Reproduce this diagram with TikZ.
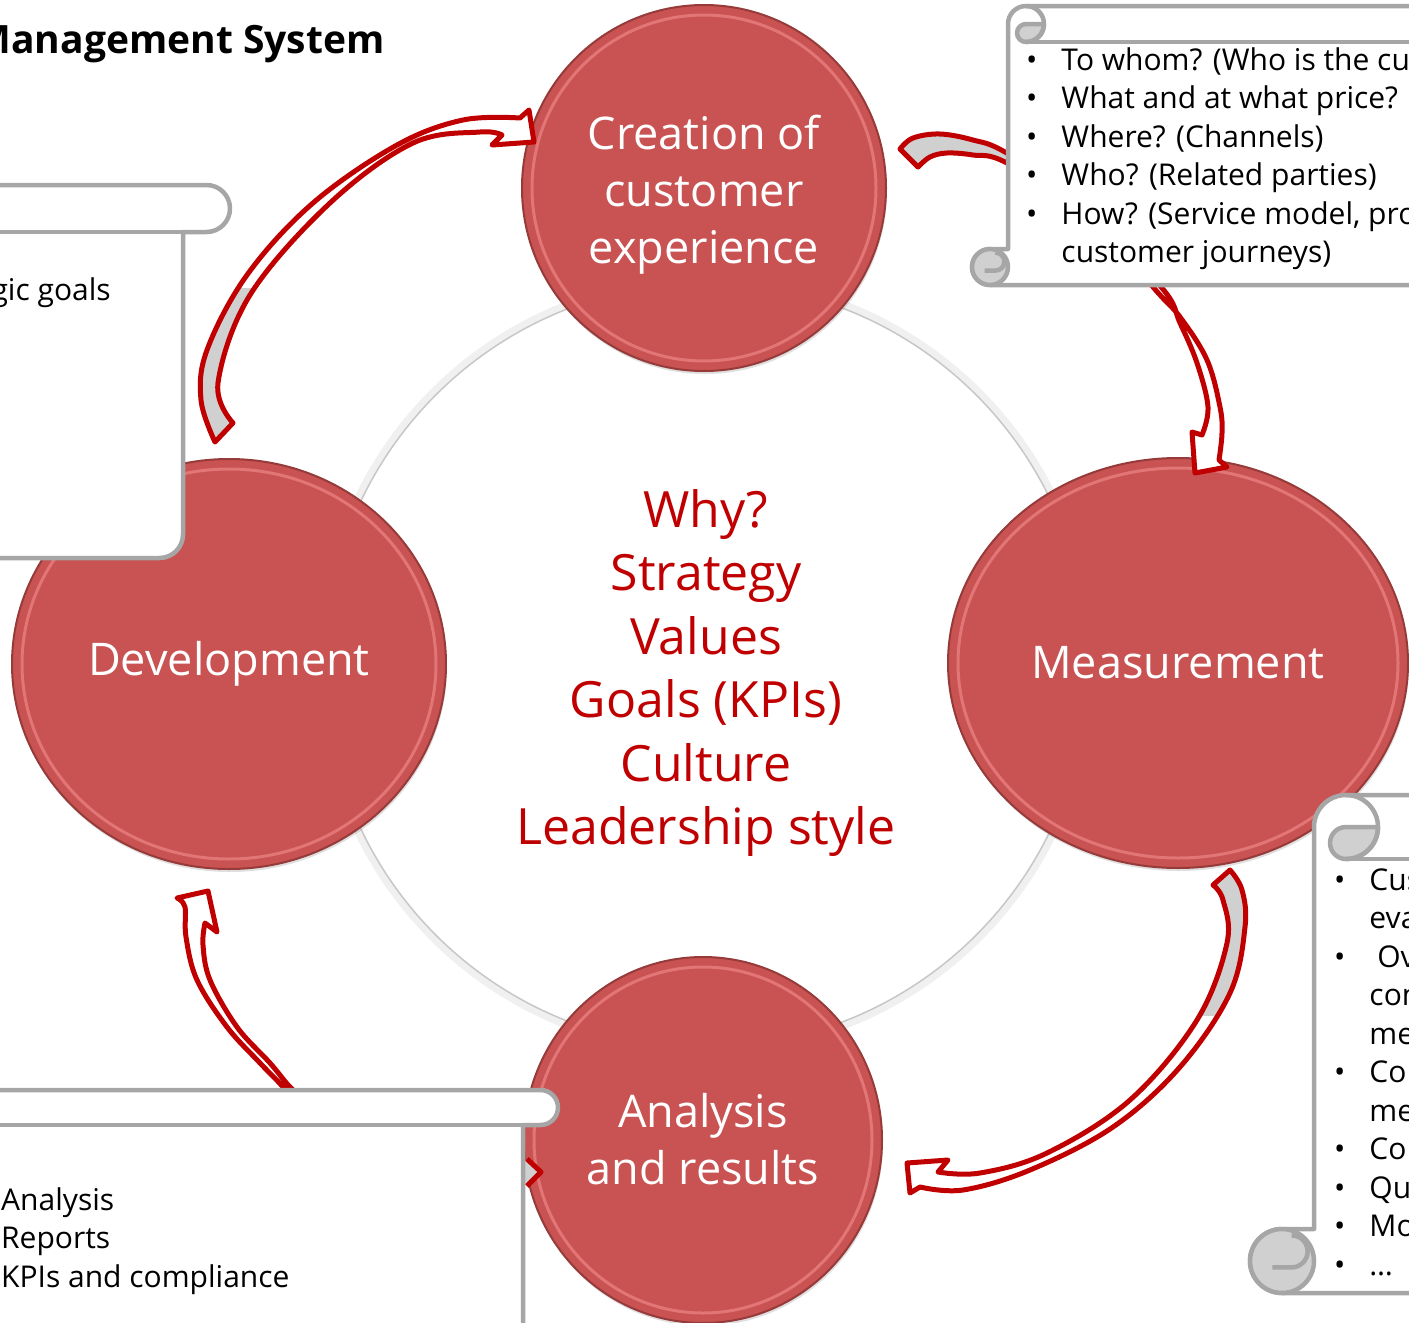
\documentclass[tikz,border=0pt]{standalone}
\usepackage{fontspec}
\setmainfont{Open Sans}
\usetikzlibrary{shapes.geometric,shadows}

\definecolor{stagefill}{RGB}{201,82,82}
\definecolor{stagerim}{RGB}{150,58,58}
\definecolor{stagelight}{RGB}{226,118,118}
\definecolor{keyred}{RGB}{192,0,0}
\definecolor{rollgray}{RGB}{208,208,208}
\definecolor{scrollgray}{RGB}{166,166,166}

\tikzset{
  stage/.style={ellipse, draw=stagerim, line width=2pt, fill=stagefill,
    inner sep=0pt, text=white, align=center, font=\fontsize{45}{57}\selectfont,
    drop shadow={opacity=.25, shadow xshift=1pt, shadow yshift=-3pt}},
  bevel/.style={draw=stagelight, line width=3pt},
  arrowline/.style={draw=keyred, line width=5pt, line join=round},
  scroll/.style={draw=scrollgray, line width=4.5pt, line join=round},
  note/.style={inner sep=0pt, font=\fontsize{30}{38.5}\selectfont},
}

% curved block arrow: #1 outline, #2 part where the back side shows
\newcommand\ribbon[2]{%
  \fill[white] #1;
  \begin{scope}\clip #2; \fill[rollgray] #1; \end{scope}
  \draw[arrowline] #1;}

% vertical scroll: left, top, right, bottom, roll size
\newcommand\vscroll[5]{%
  \pgfmathsetmacro\rl{#5}\pgfmathsetmacro\rh{#5/2}\pgfmathsetmacro\rq{#5/4}
  \filldraw[scroll, fill=white] (#1+\rl,#4-\rl) -- (#1+\rl,#2+\rh)
    arc[start angle=180, end angle=270, radius=\rh] -- (#3-\rh,#2)
    arc[start angle=270, end angle=450, radius=\rh] -- (#3-\rl,#2+\rl)
    -- (#3-\rl,#4-\rh) arc[start angle=0, end angle=90, radius=\rh]
    -- (#1+\rh,#4) arc[start angle=90, end angle=270, radius=\rh] -- cycle;
  \draw[scroll] (#1+1.5*\rl,#2+\rl) -- (#3-\rh,#2+\rl);
  % top curl
  \filldraw[scroll, fill=rollgray] (#1+2*\rl,#2+\rh)
    arc[start angle=0, end angle=90, radius=\rh]
    arc[start angle=90, end angle=270, radius=\rq] -- cycle;
  \draw[scroll] (#1+1.5*\rl,#2) arc[start angle=270, end angle=450, radius=\rh];
  % bottom roll
  \filldraw[scroll, fill=rollgray] (#1+\rh,#4-\rh) circle[radius=\rh];
  \draw[scroll] (#1+\rh-0.6*\rq,#4-\rh+0.4*\rq) -- (#1+\rh+0.6*\rq,#4-\rh+0.4*\rq)
    arc[start angle=90, end angle=-90, radius=\rq];
}

\begin{document}
\begin{tikzpicture}[x=1pt, y=-1pt]
\useasboundingbox (0,0) rectangle (1409,1323);
\clip (0,0) rectangle (1409,1323);

% ring behind the four stages
\draw[line width=7pt, black!6] (706,665) circle[radius=386];
\draw[line width=1.5pt, black!22, fill=white] (706,665) circle[radius=382];

% stages
\node[stage, minimum width=364pt, minimum height=366pt] (create) at (704,188)
  {\\[-10pt]Creation of\\customer\\experience};
\node[stage, minimum width=434pt, minimum height=410pt] (develop) at (229,664)
  {Development};
\node[stage, minimum width=460pt, minimum height=410pt] (measure) at (1178,663)
  {Measurement};
\node[stage, minimum width=358pt, minimum height=366pt] (analyse) at (703,1140)
  {\\[-24pt]Analysis\\and results};
\draw[bevel] (create.center) ellipse (172 and 173);
\draw[bevel] (develop.center) ellipse (207 and 195);
\draw[bevel] (measure.center) ellipse (220 and 195);
\draw[bevel] (analyse.center) ellipse (169 and 173);

% arrows between the stages
\ribbon{plot[smooth, tension=.6] coordinates {(215,442) (201,400) (207,350)
    (247,275) (313,203) (397,145) (463,120) (520,118)}
  -- (529,110) -- (534,142) -- (492,145)
  -- plot[smooth, tension=.6] coordinates {(502,135) (480,132) (413,143)
    (330,203) (250,295) (218,383) (233,423)} -- cycle}
  {(150,288) rectangle (260,460)}
\ribbon{plot[smooth, tension=.6] coordinates {(900,149) (913,138) (940,134)
    (973,140) (1005,152) (1080,200) (1153,287) (1180,317) (1207,360)
    (1220,407) (1222,433) (1219,460)}
  -- (1227,467) -- (1195,473) -- (1192,432)
  -- plot[smooth, tension=.6] coordinates {(1202,435) (1208,407) (1197,363)
    (1180,323) (1162,288) (1085,210) (1005,162) (973,155) (947,153)
    (930,157) (918,167)} -- cycle}
  {(880,120) rectangle (1012,180)}
\ribbon{plot[smooth, tension=.6] coordinates {(1230,870) (1242,890) (1245,927)
    (1230,993) (1180,1067) (1113,1127) (1030,1170) (963,1190) (920,1187)}
  -- (910,1193) -- (907,1163) -- (948,1160)
  -- plot[smooth, tension=.6] coordinates {(938,1172) (980,1173) (1047,1153)
    (1130,1100) (1197,1020) (1227,943) (1223,900) (1213,885)} -- cycle}
  {(1150,860) rectangle (1260,1015)}
\ribbon{plot[smooth, tension=.6] coordinates {(177,898) (185,907) (186,937)
    (197,980) (227,1027) (260,1063) (283,1087) (305,1115)}
  -- (318,1112)
  -- plot[smooth, tension=.6] coordinates {(310,1105) (290,1087) (270,1063)
    (237,1027) (210,980) (203,945) (205,923)}
  -- (217,932) -- (208,891) -- cycle}
  {(0,0) rectangle (0,0)}
\fill[rollgray] (523,1159) -- (541,1172) -- (523,1186) -- cycle;
\draw[arrowline] (527,1159) -- (541,1172) -- (527,1186);

% scrolls
\vscroll{972}{6}{1800}{285}{36}
\vscroll{-500}{185}{230}{558}{47}
\vscroll{-500}{1090}{558}{1500}{35}
\vscroll{1250}{795}{1800}{1293}{64}

% scroll texts
\node[note, anchor=base west] (offer) at (1026,70) {%
  \begin{tabular}[t]{@{}l@{\hspace{24pt}}l@{}}
  \textbullet & To whom? (Who is the customer?)\\
  \textbullet & What and at what price?\\
  \textbullet & Where? (Channels)\\
  \textbullet & Who? (Related parties)\\
  \textbullet & How? (Service model, processes,\\
              & customer journeys)
  \end{tabular}};
\node[note, anchor=base east] (aims) at (111,300) {Strategic goals};
\node[note, anchor=base west] (outputs) at (1,1210) {%
  \begin{tabular}[t]{@{}l@{}}
  Analysis\\
  Reports\\
  KPIs and compliance
  \end{tabular}};
\node[note, anchor=base west] (metrics) at (1334,890) {%
  \begin{tabular}[t]{@{}l@{\hspace{24pt}}l@{}}
  \textbullet & Customer\\
              & evaluations\\
  \textbullet & \ Overall\\
              & conversion\\
              & measures\\
  \textbullet & Competitor\\
              & measurement\\
  \textbullet & Complaints\\
  \textbullet & Quality\\
  \textbullet & Monitoring\\
  \textbullet & \dots
  \end{tabular}};

% core of the cycle
\node[text=keyred, align=center, font=\fontsize{50}{63.6}\selectfont] (core)
  at (706,673) {Why?\\Strategy\\Values\\Goals (KPIs)\\Culture\\Leadership style};

\node[anchor=base east, font=\bfseries\fontsize{39}{46}\selectfont] (title)
  at (388,53) {Management System};
\end{tikzpicture}
\end{document}
